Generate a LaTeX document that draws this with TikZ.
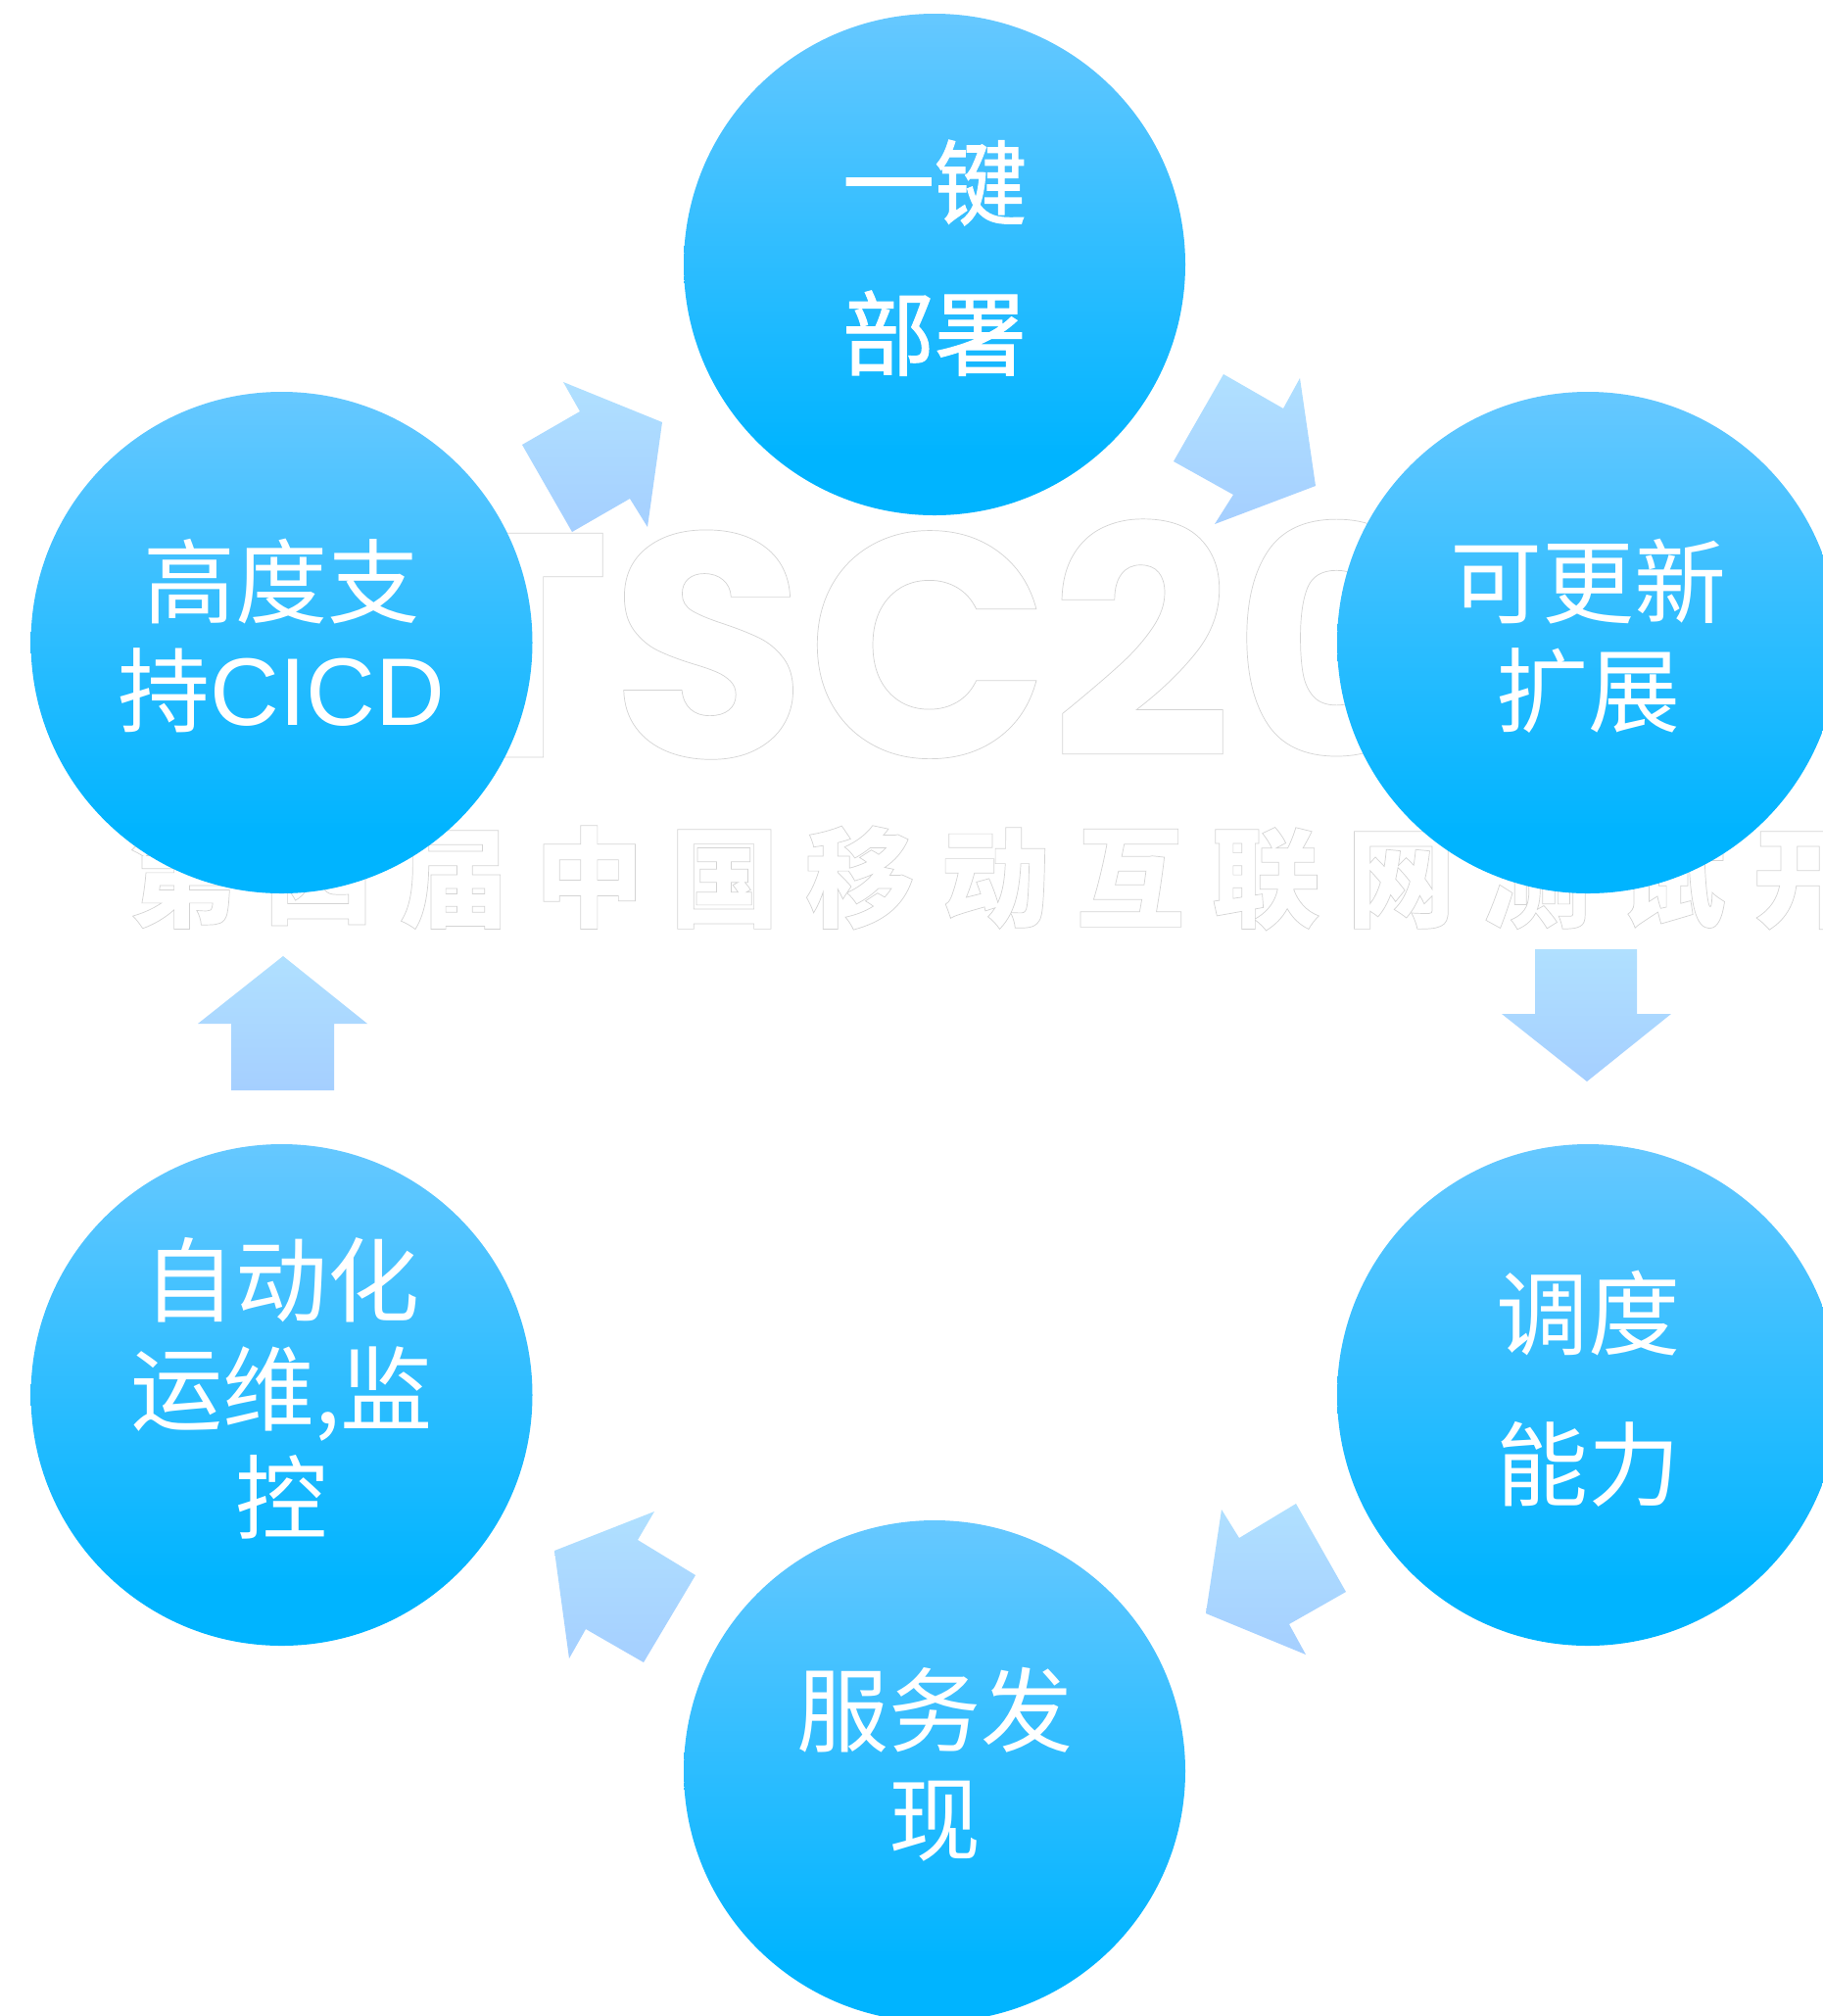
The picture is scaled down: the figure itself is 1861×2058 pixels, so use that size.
\documentclass[tikz,border=0pt]{standalone}
\usepackage{fontspec}
\setmainfont{Liberation Sans}
\newfontfamily\cjk{Noto Sans CJK SC}
\newfontfamily\cjkmed{Noto Sans CJK SC}[FakeBold=1.2]
\newfontfamily\wmlatin{Poppins}
\newfontfamily\wmcjk{Noto Sans CJK SC}[LetterSpace=24]
\definecolor{cirtop}{HTML}{66C8FF}
\definecolor{cirbot}{HTML}{00B4FF}
\definecolor{arrtop}{HTML}{B0E0FF}
\definecolor{arrbot}{HTML}{A5CFFF}
\newcommand{\outlinetext}[1]{\special{pdf:code q 1 Tr 0.35 w 0.83 0.83 0.83 RG}#1\special{pdf:code Q}}
\pgfdeclareverticalshading{circshade}{100bp}{color(0bp)=(cirbot); color(31bp)=(cirbot); color(75bp)=(cirtop); color(100bp)=(cirtop)}
\tikzset{
  x=0.5pt,y=-0.5pt,
  bubble/.style={circle,minimum size=256pt,inner sep=0pt,shading=circshade,text=white,align=center,text depth=10.5pt,font=\cjk\fontsize{47}{55.5}\selectfont},
  tallbubble/.style={bubble,font=\cjk\fontsize{47}{77}\selectfont},
  boldbubble/.style={bubble,font=\cjkmed\fontsize{47}{77}\selectfont},
  blockarrow/.style={top color=arrtop,bottom color=arrbot,draw=none},
}
\begin{document}
\begin{tikzpicture}
\useasboundingbox (0,0) rectangle (1861,2058);
\clip (0,0) rectangle (1861,2058);
\fill[white] (0,0) rectangle (1861,2058);
% watermark
\node[anchor=base west,inner sep=0pt,white,font=\wmlatin\bfseries\fontsize{163}{163}\selectfont] (wma) at (430,773) {\outlinetext{TSC20}};
\node[anchor=base west,inner sep=0pt,white,font=\wmcjk\bfseries\fontsize{55.7}{60}\selectfont] (wmb) at (131,938) {\outlinetext{第四届中国移动互联网测试开}};
% block arrows
\shade[blockarrow] (575,390)--(676,431)--(661,538)--(643,509)--(584,543)--(533,454)--(592,420)--cycle;
\shade[blockarrow] (1249,382)--(1310,417)--(1327,386)--(1343,496)--(1240,535)--(1259,505)--(1198,471)--cycle;
\shade[blockarrow] (1567,969)--(1671,969)--(1671,1035)--(1706,1035)--(1620,1104)--(1533,1035)--(1567,1035)--cycle;
\shade[blockarrow] (289,976)--(375,1045)--(341,1045)--(341,1113)--(236,1113)--(236,1045)--(202,1045)--cycle;
\shade[blockarrow] (1323,1535)--(1374,1625)--(1316,1658)--(1333,1689)--(1231,1647)--(1247,1541)--(1265,1570)--cycle;
\shade[blockarrow] (668,1543)--(651,1572)--(710,1608)--(657,1697)--(598,1663)--(581,1693)--(566,1583)--cycle;
% circles
\node[boldbubble] (deploy) at (954,270) {一键\\部署};
\node[bubble] (cicd) at (287.5,656) {高度支\\持{\fontsize{49}{55.5}\selectfont\rmfamily CICD}};
\node[bubble] (scale) at (1621,656) {可更新\\扩展};
\node[tallbubble] (sched) at (1621,1424) {调度\\能力};
\node[bubble] (ops) at (287.5,1424) {自动化\\运维,监\\控};
\node[bubble] (disc) at (954,1808) {服务发\\现};
\end{tikzpicture}
\end{document}
